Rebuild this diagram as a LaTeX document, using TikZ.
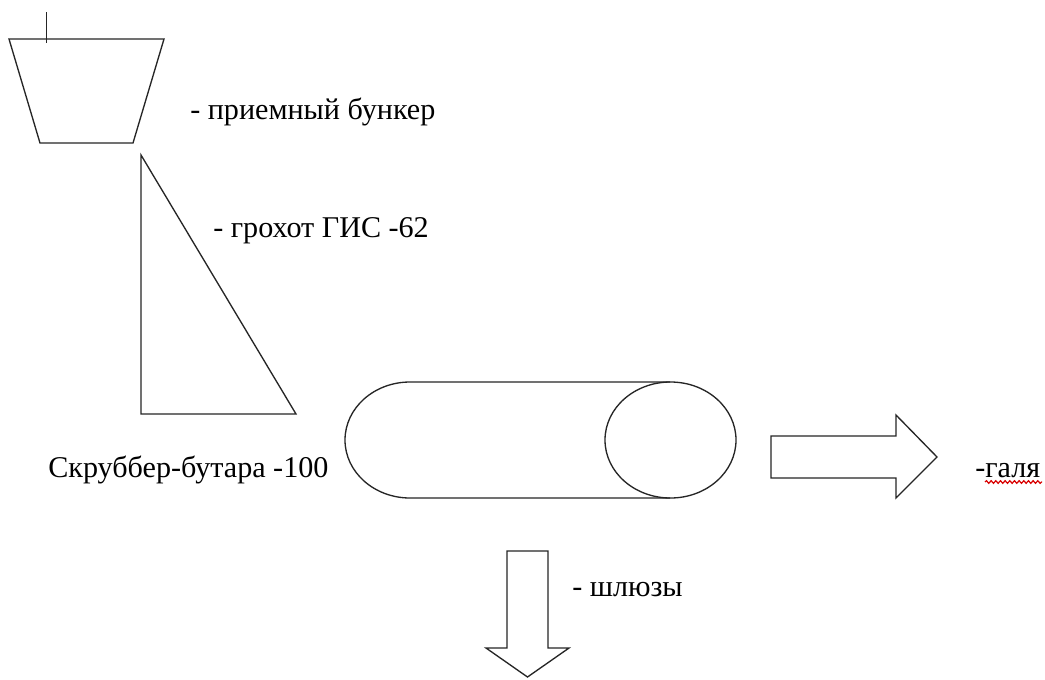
\documentclass[tikz,border=0pt]{standalone}
\usepackage{fontspec}
\setmainfont{Liberation Serif}
\usetikzlibrary{decorations.pathmorphing}
\begin{document}
\begin{tikzpicture}[x=0.75pt,y=-0.75pt,
  outline/.style={draw=black!85,line width=1pt,line join=miter},
  caption/.style={anchor=base west,inner sep=0pt,font=\fontsize{22.6}{27}\selectfont},
  spell/.style={draw=red!85!black,line width=0.9pt,decorate,
    decoration={snake,amplitude=1pt,segment length=3.5pt}}]
\useasboundingbox[fill=white] (0,0) rectangle (1045,679);

% receiving hopper with feed line
\draw[outline] (9,39) -- (164,39) -- (133,143) -- (40,143) -- cycle;
\draw[outline] (46.5,12) -- (46.5,43);
\node[caption] (hopper) at (190,119) {- приемный бункер};

% screen
\draw[outline] (141,155) -- (296,414) -- (141,414) -- cycle;
\node[caption] (screen) at (213,237) {- грохот ГИС -62};

% scrubber drum
\draw[outline] (670,382) -- (410,382) arc[start angle=270,end angle=90,x radius=65,y radius=58] -- (670,498);
\draw[outline] (670.5,440) ellipse[x radius=65.5,y radius=58];
\node[caption] (scrubber) at (48,477) {Скруббер-бутара -100};

% oversize discharge
\draw[outline] (771,436) -- (896,436) -- (896,415) -- (937,457) -- (896,498) -- (896,478) -- (771,478) -- cycle;
\node[caption] (pebble) at (975,477) {-галя};
\draw[spell] (985,482) -- (1042,482);

% undersize to sluices
\draw[outline] (507,551) -- (548,551) -- (548,648) -- (569,648) -- (527.5,677) -- (486,648) -- (507,648) -- cycle;
\node[caption] (sluice) at (572,596) {- шлюзы};
\end{tikzpicture}
\end{document}
